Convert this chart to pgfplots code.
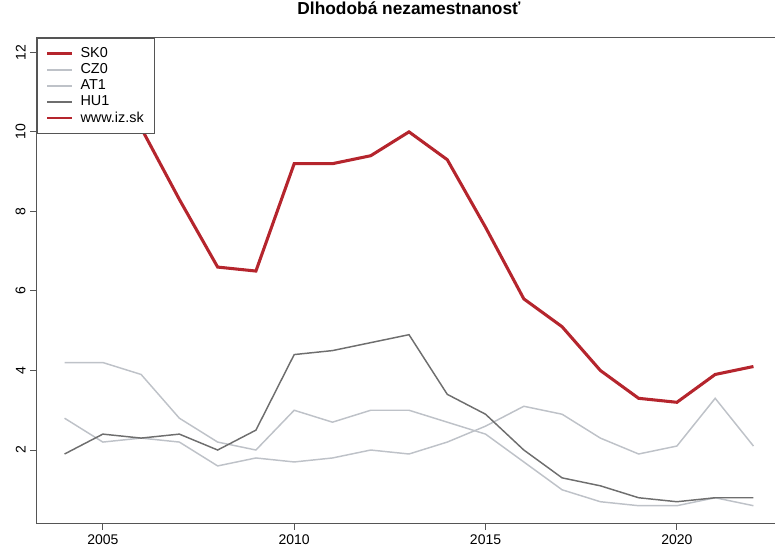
\documentclass[border=0pt]{standalone}
\usepackage{pgfplots}
\pgfplotsset{compat=1.18}
\usepackage{fontspec}
\setmainfont{Liberation Sans}
\definecolor{skred}{HTML}{B5252D}
\definecolor{lightg}{HTML}{BEC2C8}
\definecolor{darkg}{HTML}{6E6E6E}
\definecolor{axg}{HTML}{555555}
\begin{document}
\begin{tikzpicture}
\useasboundingbox (-27.75pt,-23.25pt) rectangle (553.5pt,392.25pt);
\clip (-27.75pt,-23.25pt) rectangle (553.5pt,392.25pt);
\begin{axis}[
  at={(0,0)}, anchor=south west,
  scale only axis,
  width=558pt, height=363.75pt,
  xmin=2003.28, xmax=2022.72,
  ymin=0.165, ymax=12.36,
  xtick={2005,2010,2015,2020},
  ytick={2,4,6,8,10,12},
  xtick pos=bottom, ytick pos=left,
  tick align=outside,
  major tick length=5pt,
  tick style={draw=axg, line width=0.75pt},
  axis line style={draw=axg, line width=0.75pt},
  /pgf/number format/assume math mode=true,
  /pgf/number format/1000 sep={},
  ticklabel style={font=\fontsize{10.5}{12}\selectfont},
  yticklabel style={rotate=90, anchor=south},
  title={\bfseries Dlhodobá nezamestnanosť},
  title style={font=\fontsize{13}{15}\selectfont, at={(0.5,1)}, anchor=base, yshift=11.25pt},
  legend cell align=left,
  legend style={at={(0,1)}, anchor=north west, draw=axg, line width=0.75pt, fill=white,
    font=\fontsize{10.8}{11}\selectfont, inner xsep=6pt, inner ysep=5pt, row sep=-1.0pt,
    /tikz/every odd column/.append style={column sep=3pt}},
  legend image code/.code={\draw[#1] (0pt,0pt) -- (19pt,0pt);},
]
\addplot[forget plot, color=lightg, line width=1.1pt] coordinates {
(2004,4.2)(2005,4.2)(2006,3.9)(2007,2.8)(2008,2.2)(2009,2.0)(2010,3.0)(2011,2.7)(2012,3.0)(2013,3.0)(2014,2.7)(2015,2.4)(2016,1.7)(2017,1.0)(2018,0.7)(2019,0.6)(2020,0.6)(2021,0.8)(2022,0.6)};
\addplot[forget plot, color=lightg, line width=1.1pt] coordinates {
(2004,2.8)(2005,2.2)(2006,2.3)(2007,2.2)(2008,1.6)(2009,1.8)(2010,1.7)(2011,1.8)(2012,2.0)(2013,1.9)(2014,2.2)(2015,2.6)(2016,3.1)(2017,2.9)(2018,2.3)(2019,1.9)(2020,2.1)(2021,3.3)(2022,2.1)};
\addplot[forget plot, color=darkg, line width=1.1pt] coordinates {
(2004,1.9)(2005,2.4)(2006,2.3)(2007,2.4)(2008,2.0)(2009,2.5)(2010,4.4)(2011,4.5)(2012,4.7)(2013,4.9)(2014,3.4)(2015,2.9)(2016,2.0)(2017,1.3)(2018,1.1)(2019,0.8)(2020,0.7)(2021,0.8)(2022,0.8)};
\addplot[forget plot, color=skred, line width=2.3pt] coordinates {
(2004,11.4)(2005,11.7)(2006,10.1)(2007,8.3)(2008,6.6)(2009,6.5)(2010,9.2)(2011,9.2)(2012,9.4)(2013,10.0)(2014,9.3)(2015,7.6)(2016,5.8)(2017,5.1)(2018,4.0)(2019,3.3)(2020,3.2)(2021,3.9)(2022,4.1)};
\addlegendimage{color=skred, line width=2.3pt}
\addlegendentry{SK0}
\addlegendimage{color=lightg, line width=1.1pt}
\addlegendentry{CZ0}
\addlegendimage{color=lightg, line width=1.1pt}
\addlegendentry{AT1}
\addlegendimage{color=darkg, line width=1.1pt}
\addlegendentry{HU1}
\addlegendimage{color=skred, line width=1.1pt}
\addlegendentry{www.iz.sk}
\end{axis}
\end{tikzpicture}
\end{document}
